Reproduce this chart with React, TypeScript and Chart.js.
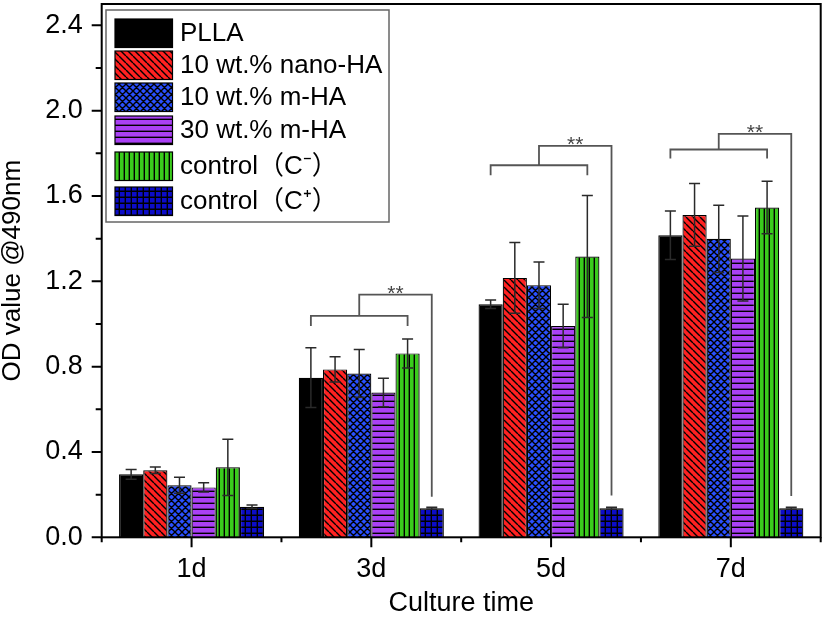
import { useEffect, useRef } from 'react'
import { Chart, registerables } from 'chart.js'

Chart.register(...registerables)

const days = ['1d', '3d', '5d', '7d']
const seriesNames = [
  'PLLA',
  '10 wt.% nano-HA',
  '10 wt.% m-HA',
  '30 wt.% m-HA',
  'control（C⁻）',
  'control（C⁺）',
]

const plla = [0.295, 0.748, 1.092, 1.416]
const pllaErr = [0.023, 0.14, 0.02, 0.114]
const nanoHA10 = [0.314, 0.787, 1.216, 1.511]
const nanoHA10Err = [0.015, 0.059, 0.166, 0.147]
const mHA10 = [0.244, 0.768, 1.182, 1.399]
const mHA10Err = [0.037, 0.112, 0.109, 0.158]
const mHA30 = [0.234, 0.679, 0.99, 1.307]
const mHA30Err = [0.022, 0.067, 0.102, 0.199]
const ctrlNeg = [0.328, 0.862, 1.316, 1.546]
const ctrlNegErr = [0.132, 0.068, 0.286, 0.123]
const ctrlPos = [0.143, 0.136, 0.136, 0.136]
const ctrlPosErr = [0.008, 0.005, 0.005, 0.005]

const yMajor = [0, 0.4, 0.8, 1.2, 1.6, 2.0, 2.4]
const yMinor = [0.2, 0.6, 1.0, 1.4, 1.8, 2.2]

// significance brackets (group index, leg bottom, bracket level, top level, foot of the C+ line)
const sigGroups = [1, 2, 3]
const sigLegLow = [0.99, 1.697, 1.776]
const sigBar = [1.038, 1.744, 1.818]
const sigTop = [1.138, 1.835, 1.891]
const sigRightLow = [0.19, 0.196, 0.194]

const FONT = "'Liberation Sans', Arial, 'Noto Sans CJK SC', sans-serif"

const values = [plla, nanoHA10, mHA10, mHA30, ctrlNeg, ctrlPos]
const errors = [pllaErr, nanoHA10Err, mHA10Err, mHA30Err, ctrlNegErr, ctrlPosErr]
const fills = [
  { color: '#000000', kind: 'solid' },
  { color: '#ff2121', kind: 'back' },
  { color: '#2a50ff', kind: 'cross' },
  { color: '#aa40f5', kind: 'horiz' },
  { color: '#3acc1c', kind: 'vert' },
  { color: '#0c0cc8', kind: 'grid' },
]

function makePattern(color: string, kind: string): CanvasPattern | string {
  if (kind === 'solid') return color
  const c = document.createElement('canvas')
  const s = kind === 'vert' ? 5 : kind === 'horiz' || kind === 'grid' ? 6 : 7
  c.width = s
  c.height = s
  const g = c.getContext('2d')!
  g.fillStyle = color
  g.fillRect(0, 0, s, s)
  g.strokeStyle = '#000'
  g.lineWidth = 1.4
  g.beginPath()
  if (kind === 'back' || kind === 'cross') {
    for (const o of [-s, 0, s]) {
      g.moveTo(o, 0)
      g.lineTo(o + s, s)
    }
  }
  if (kind === 'cross') {
    for (const o of [-s, 0, s]) {
      g.moveTo(o + s, 0)
      g.lineTo(o, s)
    }
  }
  if (kind === 'horiz' || kind === 'grid') {
    g.moveTo(0, s - 0.7)
    g.lineTo(s, s - 0.7)
  }
  if (kind === 'vert' || kind === 'grid') {
    g.moveTo(s - 0.7, 0)
    g.lineTo(s - 0.7, s)
  }
  g.stroke()
  return g.createPattern(c, 'repeat')!
}

const legendRows = [19, 51, 83, 116, 152, 187]

const decor = {
  id: 'decor',
  afterDatasetsDraw(chart: any) {
    const ctx = chart.ctx as CanvasRenderingContext2D
    const y = chart.scales.y
    const x = chart.scales.x
    const { left, right, top, bottom } = chart.chartArea
    ctx.save()

    // error bars
    ctx.strokeStyle = '#2a2a2a'
    ctx.lineWidth = 1.5
    values.forEach((vals, i) => {
      const meta = chart.getDatasetMeta(i)
      vals.forEach((v, j) => {
        const bx = meta.data[j].x
        const y1 = y.getPixelForValue(v + errors[i][j])
        const y2 = y.getPixelForValue(v - errors[i][j])
        ctx.beginPath()
        ctx.moveTo(bx, y1)
        ctx.lineTo(bx, y2)
        ctx.moveTo(bx - 5.5, y1)
        ctx.lineTo(bx + 5.5, y1)
        ctx.moveTo(bx - 5.5, y2)
        ctx.lineTo(bx + 5.5, y2)
        ctx.stroke()
      })
    })

    // significance brackets
    ctx.strokeStyle = '#555'
    ctx.lineWidth = 1.8
    sigGroups.forEach((g, k) => {
      const xL = chart.getDatasetMeta(0).data[g].x
      const xR = chart.getDatasetMeta(4).data[g].x
      const xN = chart.getDatasetMeta(5).data[g].x
      const mid = (xL + xR) / 2
      const yLow = y.getPixelForValue(sigLegLow[k])
      const yBar = y.getPixelForValue(sigBar[k])
      const yTop = y.getPixelForValue(sigTop[k])
      const yFoot = y.getPixelForValue(sigRightLow[k])
      ctx.beginPath()
      ctx.moveTo(xL, yLow)
      ctx.lineTo(xL, yBar)
      ctx.lineTo(xR, yBar)
      ctx.lineTo(xR, yLow)
      ctx.moveTo(mid, yBar)
      ctx.lineTo(mid, yTop)
      ctx.lineTo(xN, yTop)
      ctx.lineTo(xN, yFoot)
      ctx.stroke()
      ctx.fillStyle = '#444'
      ctx.font = `21px ${FONT}`
      ctx.textAlign = 'center'
      ctx.textBaseline = 'alphabetic'
      ctx.fillText('**', (mid + xN) / 2, yTop + 5)
    })

    // frame and ticks
    ctx.strokeStyle = '#000'
    ctx.lineWidth = 2
    ctx.strokeRect(left, top, right - left, bottom - top)
    ctx.beginPath()
    yMajor.forEach((v) => {
      const py = y.getPixelForValue(v)
      ctx.moveTo(left - 10, py)
      ctx.lineTo(left, py)
    })
    yMinor.forEach((v) => {
      const py = y.getPixelForValue(v)
      ctx.moveTo(left - 6, py)
      ctx.lineTo(left, py)
    })
    const step = (right - left) / days.length
    days.forEach((_, i) => {
      const px = x.getPixelForValue(i)
      ctx.moveTo(px, bottom)
      ctx.lineTo(px, bottom + 10)
    })
    for (let k = 0; k <= days.length; k++) {
      const px = left + k * step
      ctx.moveTo(px, bottom)
      ctx.lineTo(px, bottom + 5)
    }
    ctx.stroke()

    // legend
    ctx.strokeStyle = '#666'
    ctx.lineWidth = 1.5
    ctx.strokeRect(106, 10, 283, 212)
    ctx.font = `26px ${FONT}`
    ctx.textAlign = 'left'
    ctx.textBaseline = 'middle'
    seriesNames.forEach((name, i) => {
      const ry = legendRows[i]
      ctx.fillStyle = chart.data.datasets[i].backgroundColor
      ctx.fillRect(115, ry, 57.5, 28.5)
      ctx.strokeStyle = '#000'
      ctx.lineWidth = 1.2
      ctx.strokeRect(115, ry, 57.5, 28.5)
      ctx.fillStyle = '#000'
      ctx.fillText(name, 180, ry + 15)
    })
    ctx.restore()
  },
}

export default function App() {
  const canvas = useRef<HTMLCanvasElement>(null)

  useEffect(() => {
    if (!canvas.current) return
    const datasets = values.map((d, i) => ({
      label: seriesNames[i],
      data: d,
      backgroundColor: makePattern(fills[i].color, fills[i].kind),
      borderColor: '#000',
      borderWidth: 1.2,
      categoryPercentage: 0.807,
      barPercentage: 1,
    }))

    const chart = new Chart(canvas.current, {
      type: 'bar',
      data: { labels: days, datasets },
      options: {
        responsive: false,
        animation: false,
        layout: { padding: { top: 4, right: 6.3, left: 0, bottom: 0 } },
        plugins: { legend: { display: false }, tooltip: { enabled: false } },
        scales: {
          x: {
            type: 'category',
            offset: true,
            grid: { display: false, drawTicks: false },
            border: { display: false },
            ticks: { padding: 16, color: '#000', font: { family: FONT, size: 27 } },
            title: {
              display: true,
              text: 'Culture time',
              color: '#000',
              font: { family: FONT, size: 27, lineHeight: 1 },
              padding: 0,
            },
            afterFit: (s: any) => {
              s.height = 79.7
              s.paddingLeft = 0
              s.paddingRight = 0
            },
          },
          y: {
            min: 0,
            max: 2.5,
            grid: { display: false, drawTicks: false },
            border: { display: false },
            ticks: {
              autoSkip: false,
              padding: 19,
              color: '#000',
              font: { family: FONT, size: 27 },
              callback: (v: any) => {
                const r = Math.round(Number(v) * 10)
                return r % 4 === 0 ? (r / 10).toFixed(1) : ''
              },
            },
            afterBuildTicks: (s: any) => {
              s.ticks = yMajor.map((v) => ({ value: v }))
            },
            title: {
              display: true,
              text: 'OD value @490nm',
              color: '#000',
              font: { family: FONT, size: 26, lineHeight: 1 },
              padding: 0,
            },
            afterFit: (s: any) => {
              s.width = 101.7
              s.paddingTop = 0
              s.paddingBottom = 0
            },
          },
        },
      },
      plugins: [decor],
    } as any)

    return () => {
      chart.destroy()
    }
  }, [])

  return (
    <div style={{ position: 'absolute', left: 0, top: 0, width: 827, height: 617, background: '#fff' }}>
      <canvas ref={canvas} width={827} height={617} style={{ display: 'block' }} />
    </div>
  )
}
